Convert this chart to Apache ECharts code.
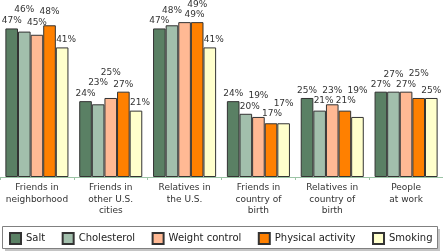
<!DOCTYPE html>
<html>
<head>
    <meta charset="UTF-8">
    <title>Social network health talk</title>
    <script src="https://cdn.jsdelivr.net/npm/echarts@6/dist/echarts.min.js"></script>
    <style>
        html, body { margin: 0; padding: 0; background: #fff; }
    </style>
</head>
<body>
    <div id="bar" style="width:443px; height:252px;"></div>
    <script>
        var categories = ['Friends in\nneighborhood', 'Friends in\nother U.S.\ncities', 'Relatives in\nthe U.S.',
            'Friends in\ncountry of\nbirth', 'Relatives in\ncountry of\nbirth', 'People\nat work'];
        var seriesNames = ['Salt', 'Cholesterol', 'Weight control', 'Physical activity', 'Smoking'];
        var salt = [47, 24, 47, 24, 25, 27];
        var cholesterol = [46, 23, 48, 20, 21, 27];
        var weightControl = [45, 25, 49, 19, 23, 27];
        var physicalActivity = [48, 27, 49, 17, 21, 25];
        var smoking = [41, 21, 41, 17, 19, 25];
        var colors = ['#5a8064', '#a2bfac', '#ffb994', '#ff8000', '#ffffcc'];

        var values = [salt, cholesterol, weightControl, physicalActivity, smoking];
        var font = 'DejaVu Sans, Verdana, sans-serif';

        var chart = echarts.init(document.getElementById('bar'), null, {renderer: 'canvas'});

        function buildSeries(offsets) {
            return values.map(function (vals, si) {
                return {
                    name: seriesNames[si],
                    type: 'bar',
                    barGap: '0%',
                    barCategoryGap: '14.6%',
                    itemStyle: { color: colors[si], borderColor: '#333', borderWidth: 1 },
                    label: {
                        show: true, position: 'top', distance: 3, formatter: '{c}%',
                        fontSize: 9, fontFamily: font, color: '#333'
                    },
                    data: vals.map(function (v, ci) {
                        return { value: v, label: { offset: offsets ? offsets[si][ci] : [0, 0] } };
                    })
                };
            });
        }

        var option = {
            animation: false,
            grid: { left: 0, right: 0, top: 0, bottom: 75 },
            xAxis: {
                type: 'category',
                data: categories,
                axisLine: { lineStyle: { color: '#9cc4a6', width: 1 } },
                axisTick: { show: true, length: 3, lineStyle: { color: '#9cc4a6' } },
                axisLabel: { fontSize: 9, fontFamily: font, color: '#333', lineHeight: 11.5, margin: 5, interval: 0 }
            },
            yAxis: { type: 'value', min: 0, max: 56, show: false, splitLine: { show: false } },
            legend: {
                left: 9, top: 232, padding: 0, itemWidth: 11, itemHeight: 11, itemGap: 16.5, icon: 'rect',
                textStyle: { fontSize: 10, fontFamily: font, color: '#222' },
                data: seriesNames
            },
            graphic: [
                { type: 'rect', z: -10, shape: { x: 5, y: 229, width: 435, height: 22 }, style: { fill: '#c4c4c4' } },
                { type: 'rect', z: -9, shape: { x: 2.5, y: 226.5, width: 435, height: 22 }, style: { fill: '#fff', stroke: '#808080', lineWidth: 1 } }
            ],
            series: buildSeries(null)
        };
        chart.setOption(option);

        function overlap(a0, a1, b0, b1) {
            return Math.max(0, Math.min(a1, b1) - Math.max(a0, b0));
        }

        // nudge value labels (up, or a little to the right) so they don't collide
        function placeLabels() {
            var W = 22, H = 10;
            var bars = [];
            values.forEach(function (vals, si) {
                var data = chart.getModel().getSeriesByIndex(si).getData();
                vals.forEach(function (v, ci) {
                    var l = data.getItemLayout(ci);
                    var top = Math.min(l.y, l.y + l.height), bottom = Math.max(l.y, l.y + l.height);
                    bars.push({ si: si, ci: ci, v: v, x0: l.x, x1: l.x + l.width, y0: top, y1: bottom });
                });
            });
            var cands = [];
            for (var dx = 0; dx <= 10; dx++) {
                for (var dy = 0; dy >= -30; dy--) cands.push([dx, dy, 2 * dx + Math.abs(dy)]);
            }
            var placed = [];
            var offsets = values.map(function () { return []; });
            var order = bars.slice().sort(function (a, b) { return a.ci - b.ci || a.si - b.si; });
            order.forEach(function (b) {
                var cx = (b.x0 + b.x1) / 2, cy = b.y0 - 8.5;
                var best = null, bestScore = Infinity;
                cands.forEach(function (c) {
                    var x = cx + c[0], y = cy + c[1];
                    var bx0 = x - W / 2, bx1 = x + W / 2, by0 = y - H / 2, by1 = y + H / 2;
                    if (y < 3.5 || bx1 > 445) return;
                    var score = c[2];
                    placed.forEach(function (p) {
                        score += 10 * overlap(bx0, bx1, p[0] - W / 2, p[0] + W / 2) * overlap(by0, by1, p[1] - H / 2, p[1] + H / 2);
                    });
                    bars.forEach(function (r) {
                        score += 10 * overlap(bx0 + 1, bx1 - 1, r.x0, r.x1) * overlap(by0, by1 - 1, r.y0, r.y1);
                    });
                    if (score < bestScore) { bestScore = score; best = [x, y, c[0], c[1]]; }
                });
                placed.push([best[0], best[1]]);
                offsets[b.si][b.ci] = [best[2], best[3]];
            });
            chart.setOption({ series: buildSeries(offsets) });
        }
        placeLabels();
    </script>
</body>
</html>
